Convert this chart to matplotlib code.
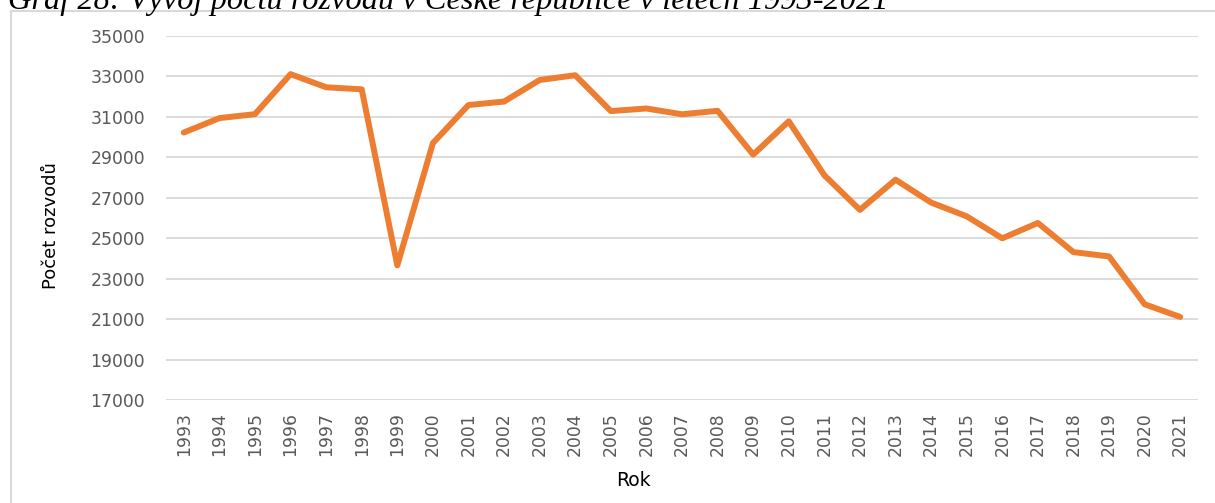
import matplotlib
matplotlib.use("Agg")
import matplotlib.pyplot as plt
from matplotlib.lines import Line2D

years = [str(y) for y in range(1993, 2022)]
divorces = [30227, 30939, 31135, 33113, 32465, 32363, 23657, 29704, 31586, 31758,
            32824, 33060, 31288, 31415, 31129, 31300, 29133, 30783, 28113, 26402,
            27895, 26764, 26083, 24996, 25755, 24313, 24100, 21734, 21107]
y_ticks = list(range(17000, 35001, 2000))

title = "Graf 28: Vývoj počtu rozvodů v České republice v letech 1993-2021"
x_label = "Rok"
y_label = "Počet rozvodů"

W, H = 1215, 503
fig = plt.figure(figsize=(W / 100, H / 100), dpi=100)
fig.patch.set_facecolor("white")

# chart frame (top and left edges visible)
fig.add_artist(Line2D([11 / W, 11 / W], [0, 1 - 11 / H], transform=fig.transFigure,
                      color="#D9D9D9", lw=1.5))
fig.add_artist(Line2D([11 / W, 1], [1 - 11 / H, 1 - 11 / H], transform=fig.transFigure,
                      color="#D9D9D9", lw=1.5))

# title, partially cut at top as in the reference
fig.text(8 / W, 1 - 8.5 / H, title, family="Liberation Serif", style="italic",
         fontsize=23.3, va="baseline", ha="left", color="black")

left, right, top, bottom = 166, 1198, 36, 400
ax = fig.add_axes([left / W, 1 - bottom / H, (right - left) / W, (bottom - top) / H])
x = list(range(len(years)))
ax.plot(x, divorces, color="#ED7D31", lw=4.3, solid_capstyle="round",
        solid_joinstyle="round", zorder=3)
ax.set_xlim(-0.5, len(years) - 0.5)
ax.set_ylim(17000, 35000)
ax.set_yticks(y_ticks)
ax.set_yticklabels([str(v) for v in y_ticks])
ax.set_xticks(x)
ax.set_xticklabels(years, rotation=90)
ax.grid(axis="y", color="#D9D9D9", lw=1.3)
ax.set_axisbelow(True)
for s in ax.spines.values():
    s.set_visible(False)
ax.tick_params(axis="both", length=0, colors="#595959", labelsize=12.4)
ax.tick_params(axis="y", pad=15)
ax.tick_params(axis="x", pad=9)
for lab in ax.get_xticklabels() + ax.get_yticklabels():
    lab.set_family("DejaVu Sans")

fig.text(633 / W, 1 - 480 / H, x_label, ha="center", va="center", fontsize=13.5,
         color="black")
fig.text(51 / W, 1 - 226 / H, y_label, ha="center", va="center", rotation=90,
         fontsize=13, color="black")

fig.savefig("out.png", dpi=100, facecolor="white")
